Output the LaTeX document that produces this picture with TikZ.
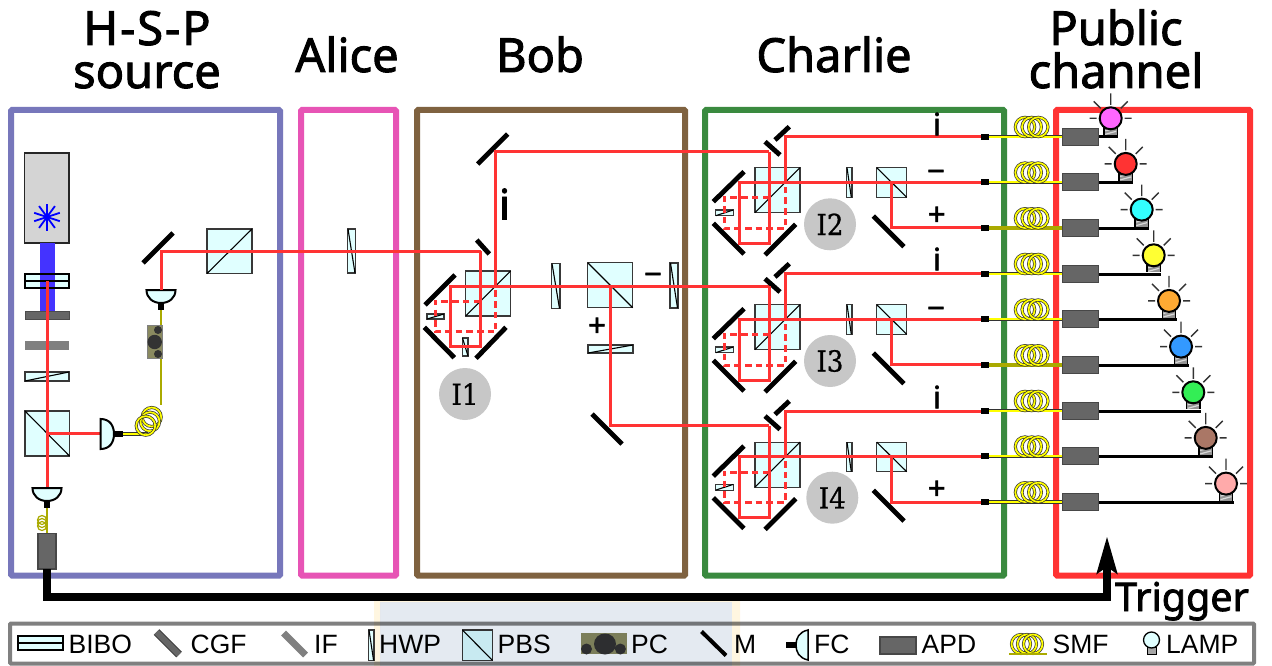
\documentclass[tikz,border=0pt]{standalone}
\usepackage{fontspec}
\setmainfont{Liberation Sans}
\newfontfamily\ttlfont[FakeBold=2]{Noto Sans}
\newfontfamily\serfont[FakeBold=0.8]{DejaVu Serif Condensed}
\definecolor{cSrc}{HTML}{7777BB}
\definecolor{cAli}{HTML}{E754B5}
\definecolor{cBob}{HTML}{7F6240}
\definecolor{cCha}{HTML}{3A8A3F}
\definecolor{cPub}{HTML}{FF3333}
\definecolor{cRed}{HTML}{FF3333}
\definecolor{cCyan}{HTML}{E0FFFF}
\definecolor{cFib}{HTML}{FFFF00}
\definecolor{cOli}{HTML}{AAAA00}
\definecolor{cPC}{HTML}{8A8A60}
\definecolor{cBlue}{HTML}{4433FF}
\definecolor{lA}{HTML}{FF66FF}
\definecolor{lB}{HTML}{FF3333}
\definecolor{lC}{HTML}{33FFFF}
\definecolor{lD}{HTML}{FFFF33}
\definecolor{lE}{HTML}{FFAA33}
\definecolor{lF}{HTML}{3399FF}
\definecolor{lG}{HTML}{33EE55}
\definecolor{lH}{HTML}{AA7766}
\definecolor{lI}{HTML}{FFAAAA}
\definecolor{wmB}{HTML}{E4EAF1}
\definecolor{wmC}{HTML}{FFF6E0}
\tikzset{
 bigbox/.style={line width=6pt,rounded corners=1pt},
 beam/.style={cRed,line width=3pt},
 dbeam/.style={cRed,line width=3pt,dash pattern=on 6.5pt off 4.2pt},
 optic/.style={draw=black!78,fill=cCyan,line width=1.2pt},
 mirror/.style={line width=4.8pt,black},
 apdbox/.style={draw=black!72,fill=black!60,line width=1.2pt},
 grayfilt/.style={draw=black!70,fill=black!60,line width=1pt},
 ttl/.style={font=\ttlfont\fontsize{47}{47}\selectfont,anchor=base,inner sep=0pt},
 lab/.style={font=\ttlfont\fontsize{31}{31}\selectfont,anchor=center,inner sep=0pt},
 leg/.style={font=\fontsize{26.5}{26.5}\selectfont,anchor=base west,inner sep=0pt},
 circ/.style={fill=black!22,draw=none},
 fibO/.style={black!80,line width=3.3pt},
 fibI/.style={cFib,line width=1.7pt},
 olive/.style={cOli,line width=3.4pt},
}
\newcommand\rectdiag[5]{\draw[optic] (#1,#2) rectangle (#3,#4); \draw[black,line width=1.1pt] #5;}
\newcommand\pbsup[4]{\rectdiag{#1}{#2}{#3}{#4}{(#1,#4)--(#3,#2)}}
\newcommand\pbsdown[4]{\rectdiag{#1}{#2}{#3}{#4}{(#1,#2)--(#3,#4)}}
\newcommand\coilring[3]{\draw[black!80,line width=3.1pt] (#1,#2) circle[radius=#3pt]; \draw[cFib,line width=1.7pt] (#1,#2) circle[radius=#3pt];}
\newcommand\fcdown[2]{\draw[black,line width=2pt,fill=cCyan] (#1-14.5,#2) -- (#1+14.5,#2) .. controls (#1+14.5,#2+8) and (#1+8,#2+13) .. (#1,#2+13) .. controls (#1-8,#2+13) and (#1-14.5,#2+8) .. (#1-14.5,#2) -- cycle; \fill[black] (#1-3,#2+13) rectangle (#1+3,#2+20);}
\newcommand\lampico[3]{\begin{scope}[shift={(#1,#2-18.4)}]
 \draw[black!80,line width=1.4pt] (0,-13.5)--(0,-25) (-10,-10)--(-17,-17) (10,-10)--(17,-17) (-14,0)--(-21,0) (14,0)--(21,0);
 \fill[black!42] (-6.7,7) rectangle (6.7,17);
 \draw[black!15,line width=1.2pt] (-5.5,12.5)--(5.5,9.5) (-5.5,16)--(5.5,13);
 \draw[black,line width=1.2pt] (-6.7,7)--(-6.7,17) (6.7,7)--(6.7,17);
 \draw[black,line width=2pt,fill=#3] (0,0) circle[radius=11pt];
\end{scope}}
\newcommand\fibrerow[3]{%
 \fill[black] (981,#1-3) rectangle (989,#1+3);
 \ifnum#3=0
  \draw[fibO] (989,#1)--(1062,#1); \draw[fibI] (989,#1)--(1062,#1);
 \else
  \draw[olive] (989,#1)--(1062,#1);
 \fi
 \coilring{1025}{#1-9.7}{9.7}\coilring{1031.7}{#1-9.7}{9.7}\coilring{1038.3}{#1-9.7}{9.7}
 \draw[black,line width=3pt] (1098,#1+.3)--(#2+7.5,#1+.3);
 \draw[apdbox] (1062.3,#1-8.5) rectangle (1098.3,#1+8.5);
}
\newcommand\interf[5]{%
\begin{scope}[shift={(0,#1)}]
 \draw[mirror] (765,141.7)--(780,155);
 \draw[mirror] (775,140)--(789.3,126.7);
 \draw[mirror] (713.3,201.7)--(744,171.7);
 \draw[mirror] (713.3,223.3)--(744,254);
 \draw[mirror] (765,255)--(795.7,224.3);
 \draw[mirror] (873.3,216)--(904,246.7);
 \pbsup{755}{167.7}{800}{212.7}
 \rectdiag{715.7}{210}{733.3}{215.7}{(715.7,215.7)--(733.3,210)}
 \rectdiag{846.3}{167.7}{852}{197.3}{(847,167.7)--(851.3,197.3)}
 \pbsdown{876.7}{167.7}{906.7}{197.3}
 \draw[dbeam] (769,197.7)--(724,197.7)--(724,228)--(785,228)--(785,182.3);
 \draw[beam] (769.3,#2)--(769.3,243.3)--(739,243.3)--(739,182.3)--(985,182.3);
 \draw[beam] (785,182.3)--(785,136.7)--(985,136.7);
 \draw[beam] (891.7,182.3)--(891.7,227.7)--(985,227.7);
 \fill[circ] (#3,#4) circle[radius=26pt];
 \node[font=\serfont\fontsize{29}{29}\selectfont,inner sep=0pt] (#5) at (#3,#4) {#5};
\end{scope}}
\begin{document}
\begin{tikzpicture}[x=1pt,y=-1pt]
\useasboundingbox (0,0) rectangle (1272,666);
\fill[white] (0,0) rectangle (1272,666);
% big boxes
\draw[bigbox,cSrc] (11,110) rectangle (280,575.5);
\draw[bigbox,cAli] (301,110) rectangle (396,575.5);
\draw[bigbox,cBob] (417,110) rectangle (685,575.5);
\draw[bigbox,cCha] (705,110) rectangle (1004,575.5);
\draw[bigbox,cPub] (1056,110) rectangle (1250,575.5);
% titles
\node[ttl] (t1) at (147,45) {H\kern2pt-\kern2pt S\kern2pt-\kern2pt P};
\node[ttl] (t2) at (147,88) {source};
\node[ttl] (t3) at (347,72) {Alice};
\node[ttl] (t4) at (540,72) {Bob};
\node[ttl] (t5) at (834,72) {Charlie};
\node[ttl] (t6) at (1116,45) {Public};
\node[ttl] (t7) at (1116,88) {channel};
% source
\draw[black!85,fill=black!17,line width=1.4pt] (24.7,153) rectangle (69,243);
\foreach \a in {18,54,...,342}{\draw[blue,line width=1.8pt] (47,217)--+(\a:13.5);}
\draw[optic] (25,274) rectangle (69,288);
\fill[cBlue] (39.5,243) rectangle (54.5,311);
\draw[black,line width=1.2pt] (25,274) rectangle (69,288) (25,281)--(69,281);
\draw[grayfilt] (25,311) rectangle (69,319);
\fill[black!50] (24.5,341) rectangle (69,350);
\rectdiag{25}{372}{69}{381}{(25,381)--(69,372)}
\pbsdown{25}{411}{69.5}{456}
\draw[beam] (47,281)--(47,488) (47,433)--(101,433);
\fcdown{47}{488}
\draw[cOli,line width=1.2pt] (47,508)--(47,533);
\foreach \yy in {520,523,526}{\draw[cOli,line width=1.2pt] (42,\yy) circle[radius=4.5pt];}
\draw[apdbox] (38,533.5) rectangle (56,569);
% fibre source
\draw[cOli,line width=2.8pt] (161,310)--(161,405);
\draw[fibO] (123,434)--(148,434); \draw[fibI] (123,434)--(148,434);
\coilring{151.7}{417}{9.5}\coilring{150}{421.7}{9.5}\coilring{145.7}{425.7}{9.5}
\draw[black,line width=2pt,fill=cCyan] (100.7,419) .. controls (110,419) and (114,426) .. (114,434) .. controls (114,442) and (110,449) .. (100.7,449) -- cycle;
\fill[black] (114,431) rectangle (123,437);
\fill[cPC,draw=black!50,line width=.6pt] (147.7,325.5) rectangle (162,358.5);
\fill[black!80] (158,330) circle[radius=4pt] (154.7,342) circle[radius=7.2pt] (158,354) circle[radius=4pt];
\draw[mirror] (143,263)--(173,233);
\pbsup{207}{229}{252}{273.5}
\fcdown{161}{290}
\rectdiag{347.5}{229}{355.5}{273}{(348,229)--(355,273)}
\draw[beam] (161,290)--(161,251)--(480.7,251);
% Bob
\draw[mirror] (477.7,164)--(507.7,134);
\draw[mirror] (476.7,240)--(489.3,254);
\draw[mirror] (425,305)--(455,275);
\draw[mirror] (424.3,327.3)--(454.3,357.7);
\draw[mirror] (476,358.3)--(506,327.3);
\draw[mirror] (592,414)--(622,444);
\pbsup{465.7}{271}{510.7}{316}
\pbsdown{587.7}{262.7}{632.7}{307.7}
\rectdiag{551.3}{263.5}{560}{308.5}{(552,263.5)--(559.5,308.5)}
\rectdiag{670}{263}{678}{308}{(670.5,263)--(677.5,308)}
\rectdiag{588}{345}{633}{353}{(588,353)--(633,345)}
\rectdiag{427}{314}{444}{319}{(427,319)--(444,314)}
\rectdiag{462.5}{338}{468}{356}{(462.5,338)--(468,356)}
\draw[dbeam] (480,301)--(435,301)--(435,331.7)--(495.7,331.7)--(495.7,286);
\draw[beam] (480.7,251)--(480.7,346.7)--(450,346.7)--(450,286)--(769.3,286);
\draw[beam] (495.7,286)--(495.7,151.7)--(769.3,151.7);
\draw[beam] (610,286)--(610,425.7)--(769.3,425.7);
\fill[circ] (465,394) circle[radius=26pt];
\node[font=\serfont\fontsize{29}{29}\selectfont,inner sep=0pt] (I1) at (465,394) {I1};
\node[lab,font=\ttlfont\fontsize{42}{42}\selectfont] (bi) at (504.5,204) {i};
\node[lab] (bm) at (653,279) {−};
\node[lab] (bp) at (597,327) {+};
% Charlie
\interf{0}{151.7}{830}{224.3}{I2}
\interf{137}{149}{830}{224}{I3}
\interf{274.4}{151.3}{832.3}{223.3}{I4}
\node[lab] (c1) at (937,124) {i};
\node[lab] (c2) at (936,176) {−};
\node[lab] (c3) at (936.7,216) {+};
\node[lab] (c4) at (937,259) {i};
\node[lab] (c5) at (936,313) {−};
\node[lab] (c6) at (937,397) {i};
\node[lab] (c7) at (936.7,490) {+};
% fibre rows
\fibrerow{136.7}{1110.7}{0}
\fibrerow{182.3}{1125.7}{0}
\fibrerow{228}{1141.7}{1}
\fibrerow{273.7}{1153.7}{0}
\fibrerow{319.3}{1169}{0}
\fibrerow{365}{1181}{1}
\fibrerow{410.7}{1193.3}{0}
\fibrerow{456.3}{1205.7}{0}
\fibrerow{502}{1226}{0}
\lampico{1110.7}{136.7}{lA}
\lampico{1125.7}{182.3}{lB}
\lampico{1141.7}{228}{lC}
\lampico{1153.7}{273.7}{lD}
\lampico{1169}{319.3}{lE}
\lampico{1181}{365}{lF}
\lampico{1193.3}{410.7}{lG}
\lampico{1205.7}{456.3}{lH}
\lampico{1226}{502}{lI}
% trigger
\coordinate (trigA) at (47,569);
\coordinate (trigB) at (1107,597);
\coordinate (trigC) at (1107,560);
\draw[black,line width=8pt] (trigA) |- (trigB) -- (trigC);
\fill[black] (1107,537) -- (1117.8,574.5) -- (1107,567) -- (1096.2,574.5) -- cycle;
\node[ttl,anchor=base west,font=\ttlfont\fontsize{39.5}{39.5}\selectfont] (trg) at (1115,611) {Trigger};
% legend
\draw[black!50,line width=4pt,fill=white,rounded corners=1pt] (10,623.5) rectangle (1254,663.5);
\draw[black,line width=1.2pt,fill=cCyan] (18,636) rectangle (63,650) (18,643)--(63,643);
\node[leg] (l1) at (68.5,653) {BIBO};
\draw[black!75,line width=8pt] (156.5,632)--(179,654.5);
\draw[black!60,line width=6pt] (156.5,632)--(179,654.5);
\node[leg] (l2) at (190.5,653) {CGF};
\draw[black!50,line width=7pt] (283.5,633)--(305.5,655);
\node[leg] (l3) at (314,653) {IF};
\rectdiag{368.6}{630}{374}{660.5}{(369,630)--(373.6,660.5)}
\node[leg] (l4) at (379,653) {HWP};
\pbsdown{462.4}{630}{492.6}{660.5}
\node[leg] (l5) at (497.5,653) {PBS};
\fill[cPC] (581,633.3) rectangle (626.5,654);
\fill[black!80] (586.5,649) circle[radius=5.5pt] (620.4,649) circle[radius=5.5pt] (605,644) ellipse[x radius=11pt,y radius=10.5pt];
\node[leg] (l6) at (631,653) {PC};
\draw[black,line width=4pt] (701.5,631.5)--(726,655.5);
\node[leg] (l7) at (734,653) {M};
\draw[black,line width=1.5pt,fill=cCyan] (808,630) .. controls (799,632) and (796,638) .. (796,645) .. controls (796,652) and (799,658) .. (808,660) -- cycle;
\fill[black] (786,642) rectangle (796,648);
\node[leg] (l8) at (814,653) {FC};
\draw[apdbox] (880,637) rectangle (916,654);
\node[leg] (l9) at (921.5,653) {APD};
\coilring{1021}{644}{9.5}\coilring{1027}{644}{9.5}\coilring{1033}{644}{9.5}
\draw[cOli,line width=1.5pt] (1009,654)--(1047,654);
\node[leg] (l10) at (1052.5,653) {SMF};
\fill[black!35] (1147,647) rectangle (1156,654);
\draw[black,line width=1pt] (1147,647) rectangle (1156,654);
\draw[black,line width=1.3pt,fill=cCyan] (1151.5,640) circle[radius=8pt];
\node[leg] (l11) at (1166,653) {LAMP};
% watermark band
\begin{scope}[blend mode=multiply]
\fill[wmC] (374,594) rectangle (740,602) (374,602) rectangle (380,666) (732,602) rectangle (740,666);
\fill[wmB] (380,602) rectangle (732,666);
\end{scope}
\end{tikzpicture}
\end{document}
